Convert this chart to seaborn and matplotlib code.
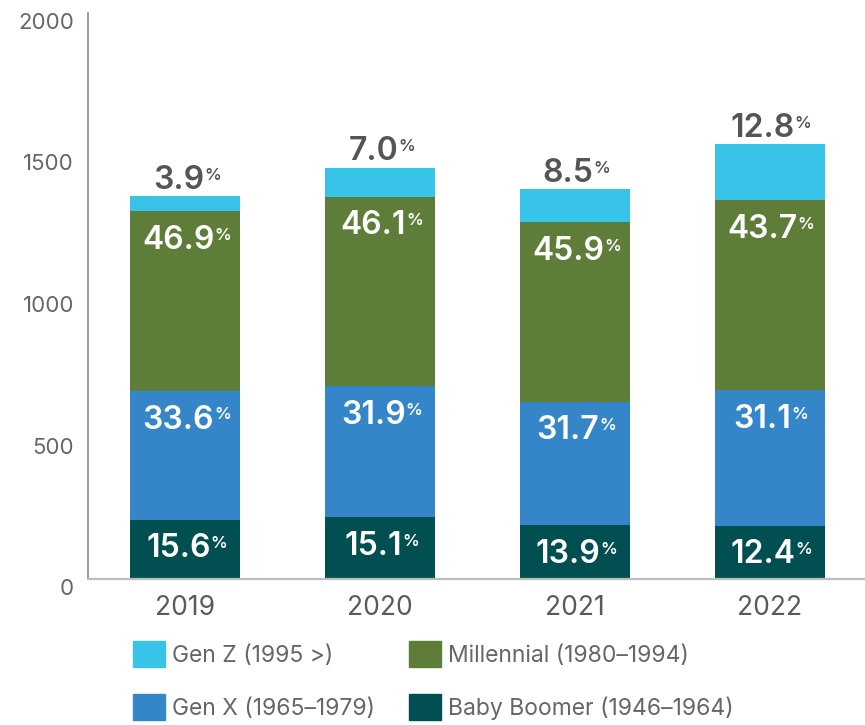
import pandas as pd
import numpy as np
import seaborn as sns
import matplotlib.pyplot as plt
from matplotlib.patches import Patch

years = ['2019', '2020', '2021', '2022']
totals = [1352, 1451, 1377, 1535]
pct_boomer = [15.6, 15.1, 13.9, 12.4]
pct_genx = [33.6, 31.9, 31.7, 31.1]
pct_millennial = [46.9, 46.1, 45.9, 43.7]
pct_genz = [3.9, 7.0, 8.5, 12.8]

names = ['Gen Z (1995 >)', 'Millennial (1980–1994)', 'Gen X (1965–1979)', 'Baby Boomer (1946–1964)']
colors = ['#38C4E9', '#5E7D38', '#3486C8', '#014F51']

sns.set_style('white')
plt.rcParams['font.family'] = ['Inter', 'DejaVu Sans']

df = pd.DataFrame({'year': years, 'total': totals})
df['boomer'] = df['total'] * np.array(pct_boomer) / 100
df['genx'] = df['total'] * np.array(pct_genx) / 100
df['millennial'] = df['total'] * np.array(pct_millennial) / 100
df['genz'] = df['total'] * np.array(pct_genz) / 100
# cumulative tops, bottom layer first
df['top_boomer'] = df['boomer']
df['top_genx'] = df['top_boomer'] + df['genx']
df['top_millennial'] = df['top_genx'] + df['millennial']
df['top_genz'] = df['top_millennial'] + df['genz']

fig = plt.figure(figsize=(8.65, 7.25), dpi=100)
ax = fig.add_axes([0.1017, 0.2007, 0.9006, 0.7818])

layers = ['top_genz', 'top_millennial', 'top_genx', 'top_boomer']
for col, c in zip(layers, colors):
    sns.barplot(data=df, x='year', y=col, color=c, width=0.565,
                saturation=1, linewidth=0, ax=ax)

ax.set_xlim(-0.5, 3.5)
ax.set_ylim(0, 2000)
ax.set_yticks([0, 500, 1000, 1500, 2000])
ax.set_xlabel('')
ax.set_ylabel('')

for s in ['top', 'right']:
    ax.spines[s].set_visible(False)
ax.spines['left'].set_color('#8a8a8a')
ax.spines['left'].set_linewidth(1.2)
ax.spines['bottom'].set_color('#bdbdbd')
ax.spines['bottom'].set_linewidth(1.6)

ax.tick_params(axis='y', direction='in', length=14.5, width=1.1, color='#8a8a8a',
               pad=10, labelsize=16, labelcolor='#666666')
for lab in ax.get_yticklabels():
    lab.set_verticalalignment('top')
ax.tick_params(axis='x', which='major', length=0, pad=11, labelsize=19,
               labelcolor='#5a5a5a')
ax.set_xticks([0.5, 1.5, 2.5], minor=True)
ax.tick_params(axis='x', which='minor', direction='in', length=10, width=1.1,
               color='#a0a0a0')


def pct_label(x, y, val, dy, color):
    t = ax.annotate(f'{val:.1f}', xy=(x, y), xytext=(-5, dy),
                    textcoords='offset points', ha='center', va='center',
                    fontsize=23, fontweight='semibold', color=color)
    ax.annotate('%', xy=(1, 1), xycoords=t, xytext=(0, -2),
                textcoords='offset points', ha='left', va='top',
                fontsize=12, fontweight='semibold', color=color)


for i in range(len(years)):
    pct_label(i, df['top_boomer'][i], pct_boomer[i], -21, 'white')
    pct_label(i, df['top_genx'][i], pct_genx[i], -21, 'white')
    pct_label(i, df['top_millennial'][i], pct_millennial[i], -21, 'white')
    pct_label(i, df['top_genz'][i], pct_genz[i], 11.5, '#555555')

# legend in two columns
leg_kw = dict(loc='upper left', frameon=False, ncol=1, fontsize=16.5,
              handlelength=1.4, handleheight=1.4, handletextpad=0.3,
              labelspacing=1.15, borderpad=0, borderaxespad=0,
              labelcolor='#666666')
h = [Patch(color=c) for c in colors]
fig.legend([h[0], h[2]], [names[0], names[2]],
           bbox_to_anchor=(133 / 865, 1 - 641 / 725), **leg_kw)
fig.legend([h[1], h[3]], [names[1], names[3]],
           bbox_to_anchor=(409 / 865, 1 - 641 / 725), **leg_kw)

fig.savefig('out.png', dpi=100)
